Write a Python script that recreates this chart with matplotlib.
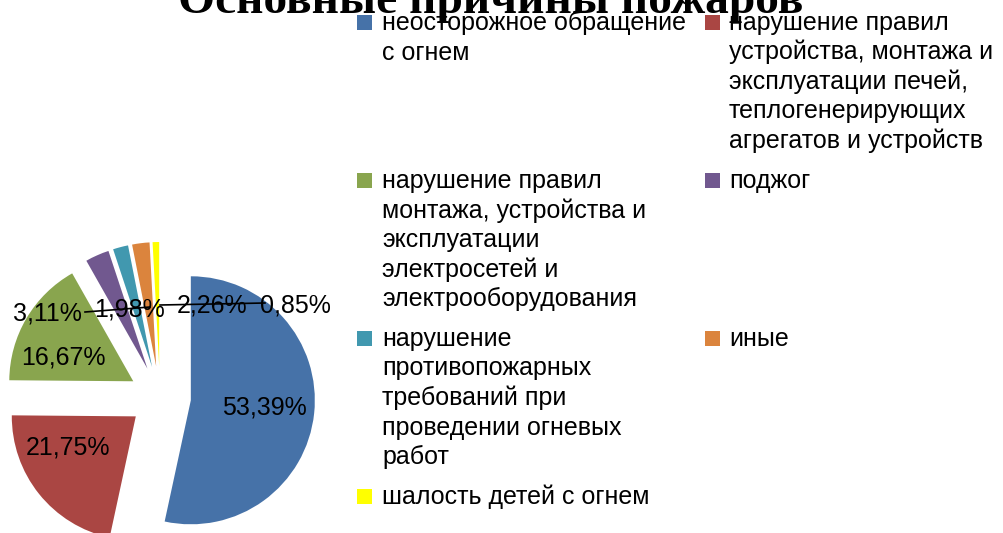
import matplotlib
matplotlib.use("Agg")
import matplotlib.pyplot as plt
from matplotlib.patches import Rectangle

# ---- data ----
title = "Основные причины пожаров"
categories = [
    "неосторожное обращение\nс огнем",
    "нарушение правил\nустройства, монтажа и\nэксплуатации печей,\nтеплогенерирующих\nагрегатов и устройств",
    "нарушение правил\nмонтажа, устройства и\nэксплуатации\nэлектросетей и\nэлектрооборудования",
    "поджог",
    "нарушение\nпротивопожарных\nтребований при\nпроведении огневых\nработ",
    "иные",
    "шалость детей с огнем",
]
values = [53.39, 21.75, 16.67, 3.11, 1.98, 2.26, 0.85]
colors = ["#4672A8", "#AA4643", "#89A54E", "#71588F", "#4198AF", "#DB843D", "#FFFF00"]

# ---- layout (pixels) ----
W, H = 1004, 533
CX, CY, R = 160, 397, 124          # pie centre (from top) and radius in px
label_px = [(264, 407), (68, 448), (63, 357), (47, 313), (130, 310), (212, 305), (295, 305)]

fig = plt.figure(figsize=(W / 100, H / 100), dpi=100)
ax = fig.add_axes([0, 0, 1, 1])
ax.pie(values, colors=colors, startangle=90, counterclock=False,
       explode=[0.25] * len(values), radius=1.0, center=(0, 0),
       wedgeprops=dict(linewidth=0))
ax.set_xlim(-CX / R, (W - CX) / R)
ax.set_ylim(-(H - CY) / R, CY / R)
ax.set_aspect("auto")
ax.axis("off")

def px2d(px, py):
    return (px - CX) / R, (CY - py) / R

FS = 18
for v, (px, py) in zip(values, label_px):
    x, y = px2d(px, py)
    ax.text(x, y, f"{v:.2f}".replace(".", ",") + "%", ha="center", va="center",
            fontsize=FS, family="Liberation Sans", color="black", zorder=5)

# leader lines
half_w = 38
for (a, b) in [((label_px[3][0] + half_w, label_px[3][1] - 1), (label_px[4][0] + 20, label_px[4][1] - 3)),
               ((label_px[5][0] - 52, label_px[5][1]), (label_px[6][0] - 30, label_px[6][1] - 2))]:
    x1, y1 = px2d(*a)
    x2, y2 = px2d(*b)
    ax.plot([x1, x2], [y1, y2], color="black", lw=1.2, zorder=4)

# title
fig.text(491 / W, 1 - 13 / H, title, ha="center", va="baseline", fontsize=34.2,
         fontweight="bold", family="Liberation Serif", color="black")

# legend (row-wise, 2 columns)
col_marker_x = [357, 705]
col_text_x = [382, 729]
row_base0, row_step, line_step = 30, 158, 29.5
for i, (lab, c) in enumerate(zip(categories, colors)):
    r, col = divmod(i, 2)
    base = row_base0 + r * row_step
    fig.patches.append(Rectangle((col_marker_x[col] / W, 1 - base / H), 15 / W, 15 / H,
                                 transform=fig.transFigure, facecolor=c, edgecolor="none"))
    for j, line in enumerate(lab.split("\n")):
        fig.text(col_text_x[col] / W, 1 - (base + j * line_step) / H, line,
                 ha="left", va="baseline", fontsize=FS, family="Liberation Sans", color="black")

fig.savefig("out.png", dpi=100)
